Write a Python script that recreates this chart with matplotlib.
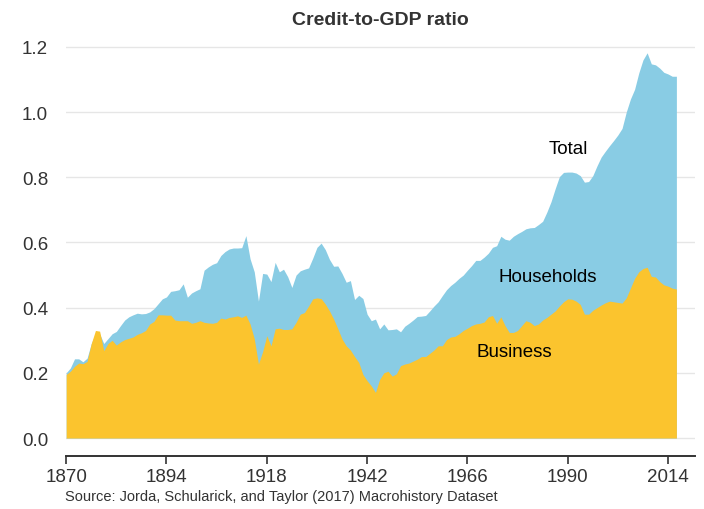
import numpy as np
import matplotlib
matplotlib.use("Agg")
import matplotlib.pyplot as plt

plt.rcParams["font.family"] = ["Liberation Sans", "DejaVu Sans"]

years = np.arange(1870, 2017)

# total credit-to-GDP (top of blue area), one row per decade
total = [
    0.200, 0.215, 0.243, 0.243, 0.234, 0.245, 0.290, 0.320, 0.320, 0.290,  # 1870s
    0.305, 0.320, 0.327, 0.345, 0.362, 0.372, 0.378, 0.383, 0.381, 0.382,  # 1880s
    0.387, 0.397, 0.412, 0.427, 0.433, 0.450, 0.452, 0.455, 0.473, 0.432,  # 1890s
    0.445, 0.452, 0.458, 0.515, 0.525, 0.533, 0.538, 0.560, 0.572, 0.580,  # 1900s
    0.583, 0.583, 0.584, 0.621, 0.550, 0.510, 0.420, 0.505, 0.503, 0.480,  # 1910s
    0.539, 0.510, 0.518, 0.495, 0.462, 0.500, 0.513, 0.518, 0.522, 0.552,  # 1920s
    0.585, 0.598, 0.578, 0.548, 0.527, 0.528, 0.505, 0.478, 0.483, 0.425,  # 1930s
    0.438, 0.428, 0.380, 0.360, 0.365, 0.335, 0.350, 0.332, 0.333, 0.335,  # 1940s
    0.326, 0.343, 0.352, 0.362, 0.373, 0.374, 0.376, 0.390, 0.405, 0.418,  # 1950s
    0.437, 0.455, 0.468, 0.478, 0.490, 0.500, 0.515, 0.529, 0.545, 0.545,  # 1960s
    0.555, 0.567, 0.585, 0.590, 0.619, 0.610, 0.607, 0.619, 0.627, 0.634,  # 1970s
    0.642, 0.645, 0.646, 0.655, 0.665, 0.693, 0.725, 0.765, 0.802, 0.815,  # 1980s
    0.816, 0.816, 0.813, 0.805, 0.785, 0.787, 0.805, 0.835, 0.862, 0.880,  # 1990s
    0.897, 0.913, 0.930, 0.950, 1.000, 1.040, 1.070, 1.120, 1.160, 1.182,  # 2000s
    1.148, 1.145, 1.135, 1.122, 1.117, 1.110, 1.110,                       # 2010s
]

# business credit-to-GDP (yellow area)
business = [
    0.195, 0.205, 0.220, 0.230, 0.228, 0.235, 0.290, 0.330, 0.328, 0.268,
    0.290, 0.300, 0.285, 0.295, 0.302, 0.306, 0.310, 0.318, 0.323, 0.330,
    0.350, 0.358, 0.378, 0.378, 0.377, 0.377, 0.362, 0.360, 0.360, 0.360,
    0.352, 0.355, 0.360, 0.355, 0.353, 0.352, 0.355, 0.368, 0.365, 0.370,
    0.372, 0.375, 0.370, 0.377, 0.350, 0.305, 0.227, 0.265, 0.314, 0.283,
    0.335, 0.337, 0.333, 0.333, 0.335, 0.355, 0.380, 0.385, 0.405, 0.427,
    0.430, 0.428, 0.411, 0.390, 0.365, 0.335, 0.304, 0.283, 0.270, 0.250,
    0.232, 0.195, 0.176, 0.160, 0.140, 0.180, 0.200, 0.205, 0.190, 0.197,
    0.222, 0.227, 0.230, 0.236, 0.242, 0.250, 0.250, 0.260, 0.270, 0.283,
    0.283, 0.302, 0.310, 0.312, 0.320, 0.330, 0.337, 0.345, 0.350, 0.352,
    0.356, 0.372, 0.376, 0.352, 0.372, 0.345, 0.324, 0.324, 0.330, 0.345,
    0.360, 0.355, 0.345, 0.350, 0.362, 0.370, 0.380, 0.390, 0.405, 0.418,
    0.427, 0.426, 0.420, 0.410, 0.380, 0.380, 0.392, 0.400, 0.408, 0.415,
    0.420, 0.418, 0.416, 0.414, 0.430, 0.460, 0.490, 0.510, 0.520, 0.524,
    0.496, 0.494, 0.480, 0.470, 0.466, 0.460, 0.457,
]

xticks = [1870, 1894, 1918, 1942, 1966, 1990, 2014]
yticks = [0.0, 0.2, 0.4, 0.6, 0.8, 1.0, 1.2]

blue = "#89CCE4"
yellow = "#FBC42E"
dark = "#333333"

fig = plt.figure(figsize=(7.04, 5.10), dpi=100)
ax = fig.add_axes([0.094, 0.104, 0.8935, 0.834])

ax.fill_between(years, 0, total, color=blue, lw=0)
ax.fill_between(years, 0, business, color=yellow, lw=0)

ax.set_xlim(1870, 2020.5)
ax.set_ylim(-0.055, 1.25)
ax.set_xticks(xticks)
ax.set_yticks(yticks)
ax.set_yticklabels([f"{v:.1f}" for v in yticks])
ax.yaxis.grid(True, color="#e6e6e6", lw=1)
ax.set_axisbelow(True)

for s in ["top", "right", "left"]:
    ax.spines[s].set_visible(False)
ax.spines["bottom"].set_color(dark)
ax.spines["bottom"].set_linewidth(1.4)
ax.tick_params(axis="x", colors=dark, labelsize=13.5, length=6, width=1.2, pad=3)
ax.tick_params(axis="y", colors=dark, labelsize=13.5, length=0, pad=13)

ax.text(1990.1, 0.887, "Total", fontsize=13.5, ha="center", va="center")
ax.text(1985.3, 0.497, "Households", fontsize=13.5, ha="center", va="center")
ax.text(1977.2, 0.267, "Business", fontsize=13.5, ha="center", va="center")

ax.set_title("Credit-to-GDP ratio", fontsize=14, fontweight="bold", color=dark, pad=5)
fig.text(0.092, 0.026, "Source: Jorda, Schularick, and Taylor (2017) Macrohistory Dataset",
         fontsize=10.5, color=dark, ha="left", va="center")

fig.savefig("out.png", dpi=100)
